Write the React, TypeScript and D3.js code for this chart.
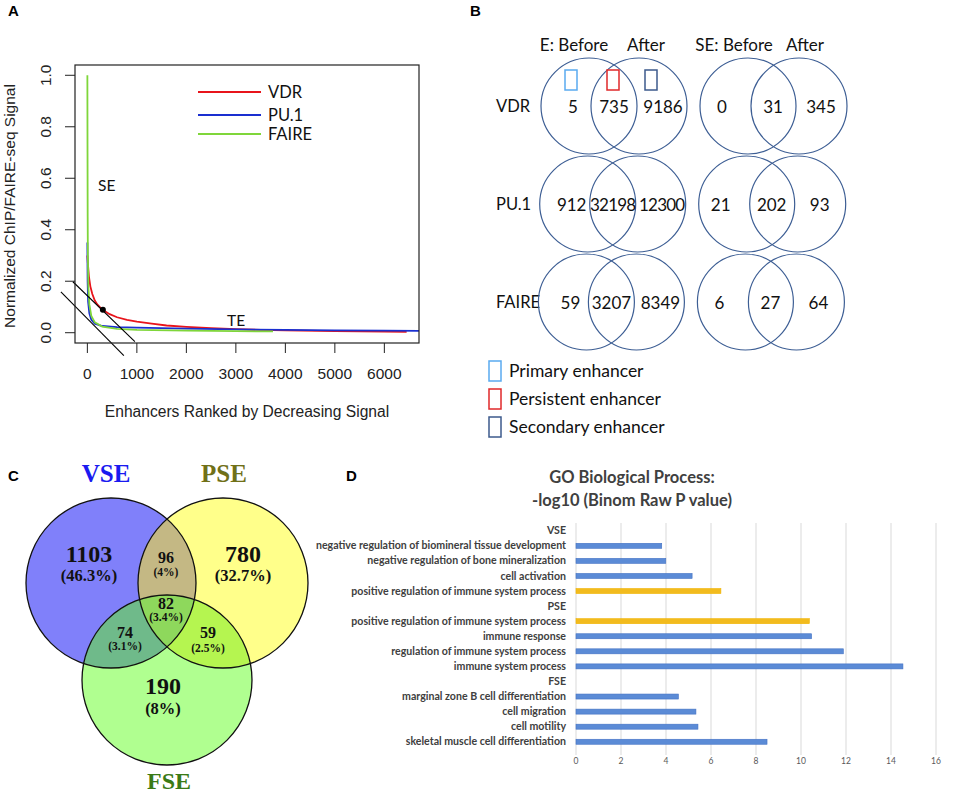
import React from 'react';
import * as d3 from 'd3';

// ---- Panel A data: rank vs normalized signal ----
const vdrCurve: [number, number][] = [
  [0, 0.3], [10, 0.27], [30, 0.22], [60, 0.18], [100, 0.15], [150, 0.125], [200, 0.11],
  [300, 0.09], [450, 0.072], [600, 0.06], [800, 0.05], [1000, 0.043], [1300, 0.035],
  [1600, 0.028], [2000, 0.023], [2500, 0.018], [3000, 0.014], [3500, 0.011], [4000, 0.009],
  [5000, 0.006], [6000, 0.004], [6450, 0.003],
];
const pu1Curve: [number, number][] = [
  [0, 0.35], [5, 0.2], [15, 0.12], [40, 0.075], [80, 0.05], [150, 0.035], [300, 0.026],
  [600, 0.022], [1000, 0.02], [2000, 0.016], [3000, 0.013], [4000, 0.011], [5000, 0.009],
  [6000, 0.008], [6700, 0.007],
];
const faireCurve: [number, number][] = [
  [0, 1.0], [3, 0.7], [6, 0.45], [10, 0.3], [20, 0.18], [40, 0.11], [80, 0.065], [150, 0.04],
  [300, 0.024], [600, 0.015], [1000, 0.011], [2000, 0.008], [3000, 0.006], [3750, 0.005],
];
const curveNames = ['VDR', 'PU.1', 'FAIRE'];
const curveColors = ['#e8141b', '#1a2fd0', '#7fd63a'];
const xTicksA = [0, 1000, 2000, 3000, 4000, 5000, 6000];
const yTicksA = [0, 0.2, 0.4, 0.6, 0.8, 1.0];
// tangent lines and cut-off point (data coords)
const tangentLines: [number, number, number, number][] = [
  [-293, 0.198, 960, -0.035],
  [-535, 0.159, 737, -0.089],
];
const cutoffPoint: [number, number] = [313, 0.089];

// ---- Panel B data ----
const vennRows = ['VDR', 'PU.1', 'FAIRE'];
const eCounts = [
  ['5', '735', '9186'],
  ['912', '32198', '12300'],
  ['59', '3207', '8349'],
];
const seCounts = [
  ['0', '31', '345'],
  ['21', '202', '93'],
  ['6', '27', '64'],
];
const enhancerTypes = ['Primary enhancer', 'Persistent enhancer', 'Secondary enhancer'];
const enhancerColors = ['#5aaaf0', '#e0282a', '#3c5a8c'];

// ---- Panel C data ----
const setNames = ['VSE', 'PSE', 'FSE'];
const setColors = ['#1a1af0', '#707018', '#3a7a16'];
const onlyCounts = ['1103', '780', '190'];
const onlyPct = ['(46.3%)', '(32.7%)', '(8%)'];
const pairCounts = ['96', '74', '59']; // V∩P, V∩F, P∩F
const pairPct = ['(4%)', '(3.1%)', '(2.5%)'];
const tripleCount = '82';
const triplePct = '(3.4%)';

// ---- Panel D data ----
const goTerms = [
  'VSE',
  'negative regulation of biomineral tissue development',
  'negative regulation of bone mineralization',
  'cell activation',
  'positive regulation of immune system process',
  'PSE',
  'positive regulation of immune system process',
  'immune response',
  'regulation of immune system process',
  'immune system process',
  'FSE',
  'marginal zone B cell differentiation',
  'cell migration',
  'cell motility',
  'skeletal muscle cell differentiation',
];
const goValues = [0, 3.81, 3.99, 5.16, 6.44, 0, 10.37, 10.47, 11.88, 14.53, 0, 4.55, 5.33, 5.42, 8.49];
const goHighlight = [false, false, false, false, true, false, true, false, false, false, false, false, false, false, false];
const xTicksD = [0, 2, 4, 6, 8, 10, 12, 14, 16];

const SANS = '"Liberation Sans", Arial, sans-serif';
const CAL = 'Lato, "Open Sans", sans-serif';
const SERIF = '"Liberation Serif", "Times New Roman", serif';

function PanelA() {
  const x = d3.scaleLinear().domain([-250, 6700]).range([75, 419]);
  const y = d3.scaleLinear().domain([-0.04, 1.04]).range([343, 65]);
  const line = d3.line<[number, number]>().x(d => x(d[0])).y(d => y(d[1]));
  const curves = [vdrCurve, pu1Curve, faireCurve];
  return (
    <g>
      <text x={8} y={16} fontFamily={SANS} fontWeight="bold" fontSize={15}>A</text>
      <defs>
        <clipPath id="clipA"><rect x={75} y={65} width={344} height={278} /></clipPath>
      </defs>
      <g clipPath="url(#clipA)">
        <path d={line(curves[0]) || ''} fill="none" stroke={curveColors[0]} strokeWidth={1.8} />
        <path d={line(curves[1]) || ''} fill="none" stroke={curveColors[1]} strokeWidth={1.8} />
        <path d={line(curves[2]) || ''} fill="none" stroke={curveColors[2]} strokeWidth={1.8} />
      </g>
      {tangentLines.map((l, i) => (
        <line key={i} x1={x(l[0])} y1={y(l[1])} x2={x(l[2])} y2={y(l[3])} stroke="#000" strokeWidth={1.1} />
      ))}
      <circle cx={x(cutoffPoint[0])} cy={y(cutoffPoint[1])} r={3} fill="#000" />
      <rect x={75} y={65} width={344} height={278} fill="none" stroke="#222" strokeWidth={1.2} />
      {yTicksA.map(t => (
        <g key={t}>
          <line x1={65} x2={75} y1={y(t)} y2={y(t)} stroke="#222" />
          <text transform={`translate(${51},${y(t)}) rotate(-90)`} textAnchor="middle" fontFamily={SANS} fontSize={15.5} fill="#222">
            {t.toFixed(1)}
          </text>
        </g>
      ))}
      {xTicksA.map(t => (
        <g key={t}>
          <line x1={x(t)} x2={x(t)} y1={343} y2={353} stroke="#222" />
          <text x={x(t)} y={379} textAnchor="middle" fontFamily={SANS} fontSize={15.5} fill="#222">{t}</text>
        </g>
      ))}
      <text transform="translate(15,206) rotate(-90)" textAnchor="middle" fontFamily={SANS} fontSize={15.5} fill="#222">
        Normalized ChIP/FAIRE-seq Signal
      </text>
      <text x={247} y={417} textAnchor="middle" fontFamily={SANS} fontSize={15.6} fill="#222">
        Enhancers Ranked by Decreasing Signal
      </text>
      {curveNames.map((n, i) => {
        const ly = [92, 115, 134][i];
        return (
          <g key={n}>
            <line x1={198} x2={261} y1={ly} y2={ly} stroke={curveColors[i]} strokeWidth={2} />
            <text x={268} y={ly + 6} fontFamily={CAL} fontSize={16.5} fill="#111">{n}</text>
          </g>
        );
      })}
      <text x={98} y={191} fontFamily={CAL} fontSize={15.5} fill="#111">SE</text>
      <text x={227} y={326} fontFamily={CAL} fontSize={15.5} fill="#111">TE</text>
    </g>
  );
}

function PanelB() {
  const rowY = d3.scaleBand<string>().domain(vennRows).range([57, 351]);
  const r = 48;
  const cols = [
    { cx: [589, 639], counts: eCounts },
    { cx: [748, 799], counts: seCounts },
  ];
  const numX = [[-16, 25, 74], [-26, 25, 73]];
  const stroke = '#3d5e94';
  return (
    <g>
      <text x={470} y={16} fontFamily={SANS} fontWeight="bold" fontSize={15}>B</text>
      <g fontFamily={CAL} fontSize={17} fill="#111" textAnchor="middle">
        <text x={574} y={51}>E: Before</text>
        <text x={646} y={51}>After</text>
        <text x={734} y={51}>SE: Before</text>
        <text x={805} y={51}>After</text>
      </g>
      {vennRows.map((row, ri) => {
        const cy = (rowY(row) || 0) + rowY.bandwidth() / 2;
        const dx = -ri * 1.3;
        return (
          <g key={row}>
            <text x={496} y={cy + 6} fontFamily={CAL} fontSize={16.5} fill="#111">{row}</text>
            {cols.map((c, ci) => (
              <g key={ci}>
                <circle cx={c.cx[0] + dx} cy={cy} r={r} fill="none" stroke={stroke} strokeWidth={1.2} />
                <circle cx={c.cx[1] + dx} cy={cy} r={r} fill="none" stroke={stroke} strokeWidth={1.2} />
                {c.counts[ri].map((v, k) => (
                  <text key={k} x={c.cx[0] + dx + numX[ci][k]} y={cy + 6.5} textAnchor="middle"
                    fontFamily={CAL} fontSize={17} letterSpacing={v.length >= 5 ? -0.8 : 0} fill="#111">{v}</text>
                ))}
              </g>
            ))}
          </g>
        );
      })}
      {/* markers in the first E venn */}
      {[571, 613, 651].map((mx, i) => (
        <rect key={i} x={mx - 6} y={70} width={12} height={20} fill="none" stroke={enhancerColors[i]} strokeWidth={1.5} />
      ))}
      {enhancerTypes.map((t, i) => {
        const ly = [371, 399, 427][i];
        return (
          <g key={t}>
            <rect x={489} y={ly - 10} width={12} height={20} fill="none" stroke={enhancerColors[i]} strokeWidth={1.5} />
            <text x={509} y={ly + 6} fontFamily={CAL} fontSize={17.5} fill="#111">{t}</text>
          </g>
        );
      })}
    </g>
  );
}

function PanelC() {
  const R = 85;
  const centers: [number, number][] = [[111, 583], [223, 583], [167, 680]];
  const fills = ['#8080fa', '#ffff8a', '#b0ff90'];
  const pairFill = ['#c4b884', '#6fba8a', '#b5f550'];
  const centerFill = '#8ed85c';
  const circ = (i: number, props: any = {}) => (
    <circle cx={centers[i][0]} cy={centers[i][1]} r={R} {...props} />
  );
  return (
    <g>
      <text x={8} y={481} fontFamily={SANS} fontWeight="bold" fontSize={15}>C</text>
      <defs>
        {centers.map((c, i) => (
          <clipPath key={i} id={`vc${i}`}><circle cx={c[0]} cy={c[1]} r={R} /></clipPath>
        ))}
      </defs>
      {circ(0, { fill: fills[0] })}
      {circ(1, { fill: fills[1] })}
      {circ(2, { fill: fills[2] })}
      <g clipPath="url(#vc0)">{circ(1, { fill: pairFill[0] })}</g>
      <g clipPath="url(#vc0)">{circ(2, { fill: pairFill[1] })}</g>
      <g clipPath="url(#vc1)">{circ(2, { fill: pairFill[2] })}</g>
      <g clipPath="url(#vc0)"><g clipPath="url(#vc1)">{circ(2, { fill: centerFill })}</g></g>
      {[0, 1, 2].map(i => circ(i, { key: i, fill: 'none', stroke: '#111', strokeWidth: 1.3 }))}
      <g fontFamily={SERIF} fontWeight="bold" textAnchor="middle">
        <text x={106} y={482} fontSize={25} fill={setColors[0]}>{setNames[0]}</text>
        <text x={224} y={482} fontSize={25} fill={setColors[1]}>{setNames[1]}</text>
        <text x={169} y={789} fontSize={24} fill={setColors[2]}>{setNames[2]}</text>
        <text x={89} y={562} fontSize={24} fill="#111">{onlyCounts[0]}</text>
        <text x={89} y={581} fontSize={16.5} fill="#111">{onlyPct[0]}</text>
        <text x={243} y={562} fontSize={24} fill="#111">{onlyCounts[1]}</text>
        <text x={243} y={581} fontSize={16.5} fill="#111">{onlyPct[1]}</text>
        <text x={163} y={694} fontSize={24} fill="#111">{onlyCounts[2]}</text>
        <text x={163} y={714} fontSize={16.5} fill="#111">{onlyPct[2]}</text>
        <text x={166} y={563} fontSize={16} fill="#111">{pairCounts[0]}</text>
        <text x={166} y={576} fontSize={11.5} fill="#111">{pairPct[0]}</text>
        <text x={125} y={638} fontSize={16} fill="#111">{pairCounts[1]}</text>
        <text x={125} y={650} fontSize={11.5} fill="#111">{pairPct[1]}</text>
        <text x={208} y={638} fontSize={16} fill="#111">{pairCounts[2]}</text>
        <text x={208} y={652} fontSize={11.5} fill="#111">{pairPct[2]}</text>
        <text x={166} y={609} fontSize={16} fill="#111">{tripleCount}</text>
        <text x={166} y={621} fontSize={11.5} fill="#111">{triplePct}</text>
      </g>
    </g>
  );
}

function PanelD() {
  const x = d3.scaleLinear().domain([0, 16]).range([576, 936]);
  const y = d3.scaleBand<number>().domain(d3.range(goTerms.length)).range([523.2, 749.3]);
  const barH = 5;
  return (
    <g>
      <text x={346} y={481} fontFamily={SANS} fontWeight="bold" fontSize={15}>D</text>
      <g fontFamily={CAL} fontWeight="bold" fontSize={16.5} fill="#404040" textAnchor="middle">
        <text x={632} y={483}>GO Biological Process:</text>
        <text x={632} y={506}>-log10 (Binom Raw P value)</text>
      </g>
      {xTicksD.map(t => (
        <g key={t}>
          <line x1={x(t)} x2={x(t)} y1={523} y2={755} stroke="#d9d9d9" strokeWidth={1} />
          <text x={x(t)} y={764} textAnchor="middle" fontFamily={CAL} fontSize={8.5} fill="#595959">{t}</text>
        </g>
      ))}
      {goTerms.map((term, i) => {
        const cy = (y(i) || 0) + y.bandwidth() / 2;
        return (
          <g key={i}>
            <text x={566} y={cy + 3.6} textAnchor="end" fontFamily={CAL} fontWeight="bold" fontSize={10.6} fill="#404040">
              {term}
            </text>
            {goValues[i] > 0 && (
              <rect x={x(0)} y={cy - barH / 2} width={x(goValues[i]) - x(0)} height={barH}
                fill={goHighlight[i] ? '#f2bb1e' : '#5b8bd6'}
                stroke={goHighlight[i] ? '#f0b400' : '#4472c4'} strokeWidth={0.6} />
            )}
          </g>
        );
      })}
    </g>
  );
}

export default function App() {
  return (
    <div style={{ position: 'absolute', left: 0, top: 0, background: '#fff' }}>
      <svg width={957} height={794} viewBox="0 0 957 794" style={{ display: 'block' }}>
        <rect width={957} height={794} fill="#fff" />
        <PanelA />
        <PanelB />
        <PanelC />
        <PanelD />
      </svg>
    </div>
  );
}
